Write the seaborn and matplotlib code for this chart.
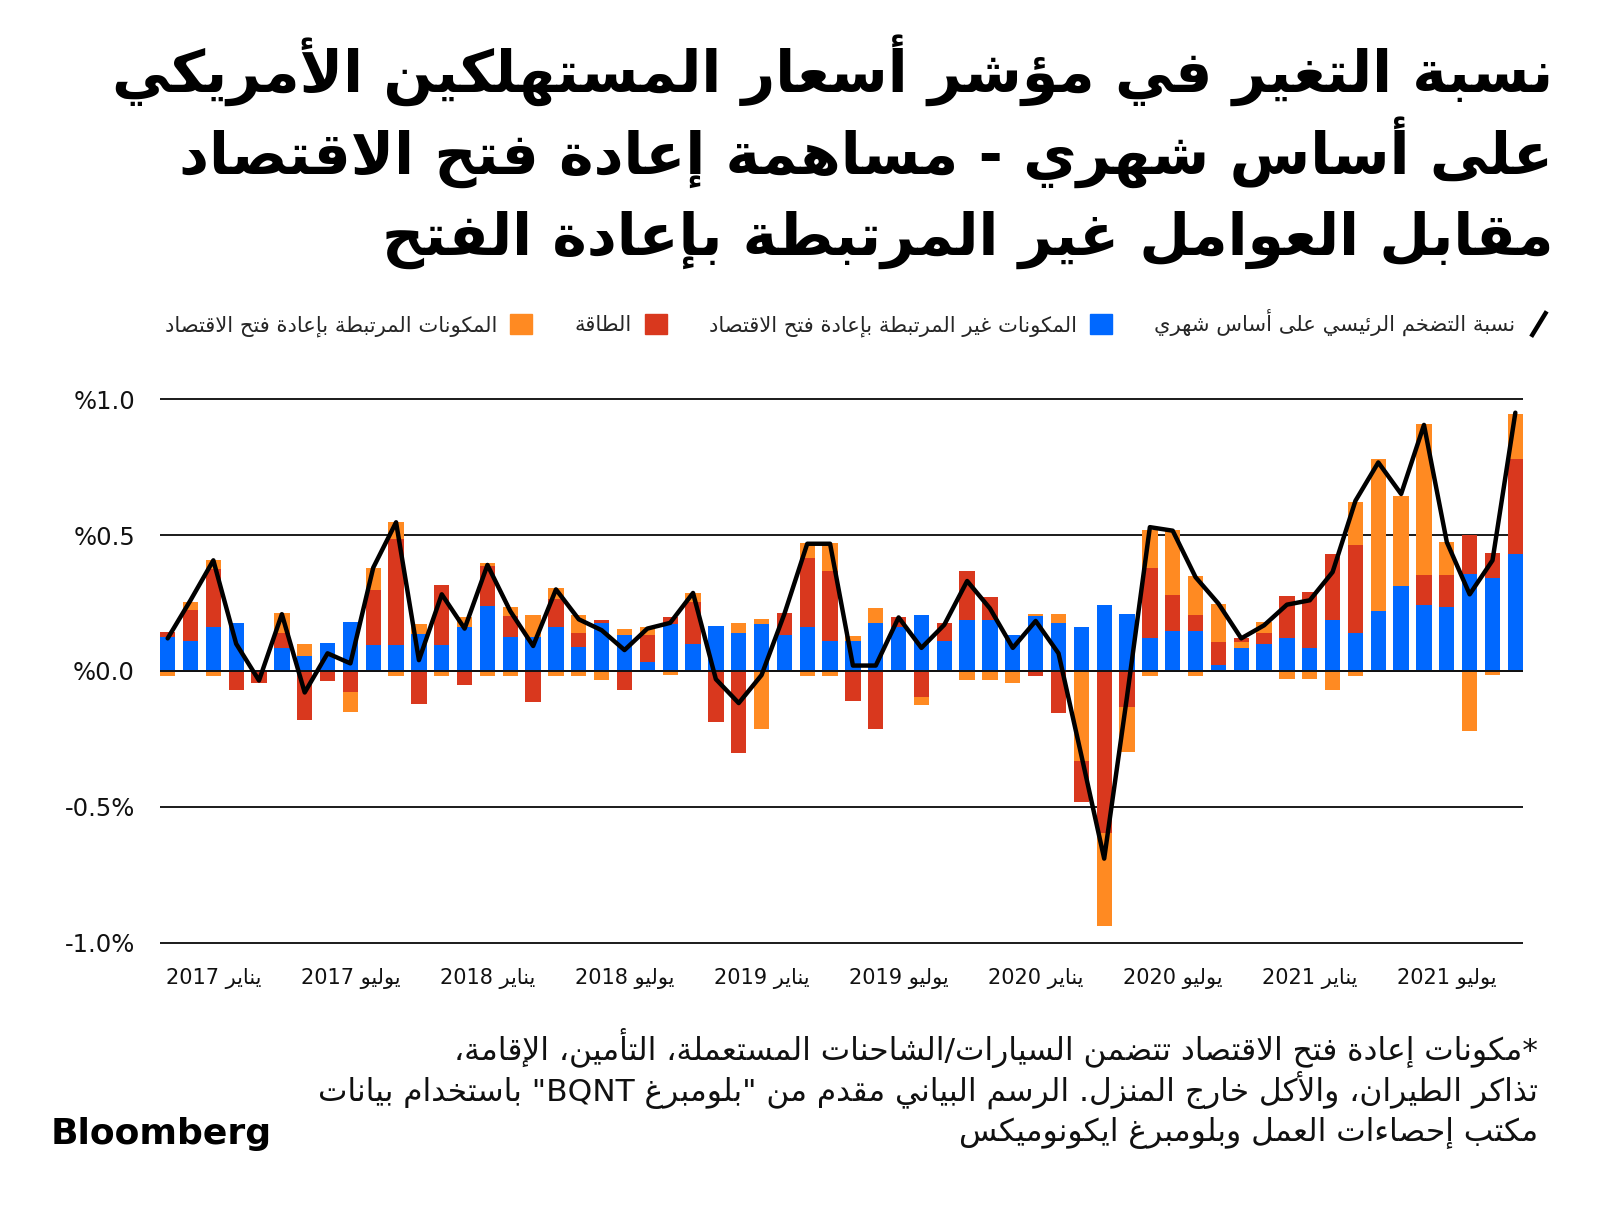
import re
import numpy as np
import pandas as pd
import matplotlib
matplotlib.use("Agg")
import matplotlib.pyplot as plt
import seaborn as sns
from matplotlib.lines import Line2D
from matplotlib.patches import Patch
from matplotlib.legend_handler import HandlerBase

# ---------------- data ----------------
months = pd.period_range("2016-11", "2021-10", freq="M")

# non-reopening core components (blue)
core = [0.126, 0.110, 0.160, 0.175, 0.000, 0.083, 0.056, 0.104, 0.182, 0.095,
        0.095, 0.136, 0.095, 0.162, 0.238, 0.126, 0.126, 0.162, 0.087, 0.175,
        0.134, 0.034, 0.172, 0.099, 0.165, 0.140, 0.172, 0.134, 0.162, 0.110,
        0.110, 0.175, 0.162, 0.205, 0.110, 0.187, 0.187, 0.134, 0.201, 0.175,
        0.162, 0.242, 0.208, 0.120, 0.147, 0.147, 0.022, 0.085, 0.099, 0.122,
        0.083, 0.187, 0.138, 0.221, 0.311, 0.242, 0.236, 0.355, 0.342, 0.429]

# reopening components, first block (orange)
reopen_a = [0.000, 0.000, -0.018, 0.000, 0.000, 0.000, 0.000, 0.000, 0.000, 0.000,
            -0.018, 0.000, 0.000, 0.000, -0.018, -0.018, 0.000, -0.018, -0.018, 0.000,
            0.000, 0.000, 0.000, 0.000, 0.000, 0.000, 0.021, 0.000, -0.018, -0.018,
            0.000, 0.000, 0.000, 0.000, 0.000, 0.000, 0.000, 0.000, 0.000, 0.000,
            -0.332, 0.000, 0.000, -0.018, 0.000, -0.018, 0.000, 0.022, 0.000, 0.000,
            0.000, 0.000, -0.018, 0.000, 0.000, 0.000, 0.000, 0.000, 0.000, 0.000]

# energy (red)
energy = [0.016, 0.116, 0.214, -0.070, -0.043, 0.055, -0.179, -0.035, -0.076, 0.202,
          0.391, -0.121, 0.220, -0.051, 0.147, 0.075, -0.115, 0.104, 0.051, 0.012,
          -0.070, 0.098, 0.027, 0.153, -0.186, -0.302, 0.000, 0.080, 0.254, 0.256,
          -0.109, -0.212, 0.037, -0.096, 0.065, 0.180, 0.085, 0.000, -0.018, -0.155,
          -0.149, -0.595, -0.131, 0.260, 0.131, 0.058, 0.083, 0.015, 0.041, 0.154,
          0.208, 0.245, 0.324, 0.000, 0.000, 0.110, 0.118, 0.146, 0.091, 0.352]

# reopening components, second block (orange)
reopen_b = [-0.018, 0.026, 0.034, 0.000, 0.000, 0.074, 0.042, 0.000, -0.076, 0.083,
            0.061, 0.036, -0.018, 0.037, 0.013, 0.035, 0.079, 0.040, 0.067, -0.033,
            0.019, 0.030, -0.015, 0.036, 0.000, 0.038, -0.212, 0.000, 0.054, 0.104,
            0.018, 0.056, 0.000, -0.028, 0.000, -0.033, -0.033, -0.045, 0.010, 0.036,
            0.000, -0.344, -0.168, 0.140, 0.242, 0.144, 0.140, 0.000, 0.041, -0.029,
            -0.029, -0.070, 0.161, 0.558, 0.331, 0.555, 0.122, -0.219, -0.013, 0.163]

# headline CPI, month over month (black line)
headline = [0.12, 0.26, 0.407, 0.10, -0.035, 0.209, -0.079, 0.065, 0.028, 0.38,
            0.547, 0.04, 0.282, 0.156, 0.39, 0.22, 0.092, 0.30, 0.19, 0.15,
            0.077, 0.156, 0.177, 0.287, -0.03, -0.118, -0.015, 0.21, 0.468, 0.468,
            0.02, 0.02, 0.197, 0.085, 0.17, 0.331, 0.23, 0.085, 0.184, 0.065,
            -0.31, -0.69, -0.094, 0.529, 0.516, 0.345, 0.248, 0.12, 0.168, 0.244,
            0.26, 0.364, 0.626, 0.767, 0.651, 0.905, 0.474, 0.282, 0.407, 0.95]

tick_labels = ["يناير 2017", "يوليو 2017", "يناير 2018", "يوليو 2018", "يناير 2019",
               "يوليو 2019", "يناير 2020", "يوليو 2020", "يناير 2021", "يوليو 2021"]
y_ticks = [-1.0, -0.5, 0.0, 0.5, 1.0]
y_tick_labels = ["-1.0%", "-0.5%", "%0.0", "%0.5", "%1.0"]

legend_labels = ["المكونات المرتبطة بإعادة فتح الاقتصاد", "الطاقة",
                 "المكونات غير المرتبطة بإعادة فتح الاقتصاد",
                 "نسبة التضخم الرئيسي على أساس شهري"]

title_lines = ["نسبة التغير في مؤشر أسعار المستهلكين الأمريكي",
               "على أساس شهري - مساهمة إعادة فتح الاقتصاد",
               "مقابل العوامل غير المرتبطة بإعادة الفتح"]

note_lines = ["*مكونات إعادة فتح الاقتصاد تتضمن السيارات/الشاحنات المستعملة، التأمين، الإقامة،",
              "تذاكر الطيران، والأكل خارج المنزل. الرسم البياني مقدم من \"بلومبرغ BQNT\" باستخدام بيانات",
              "مكتب إحصاءات العمل وبلومبرغ ايكونوميكس"]

BLUE = "#0068ff"
RED = "#d9381e"
ORANGE = "#ff8a22"

# ---------------- minimal Arabic shaping + RTL ordering ----------------
_seq = [("ء", 0xFE80, 1), ("آ", 0xFE81, 2), ("أ", 0xFE83, 2), ("ؤ", 0xFE85, 2),
        ("إ", 0xFE87, 2), ("ئ", 0xFE89, 4), ("ا", 0xFE8D, 2), ("ب", 0xFE8F, 4),
        ("ة", 0xFE93, 2), ("ت", 0xFE95, 4), ("ث", 0xFE99, 4), ("ج", 0xFE9D, 4),
        ("ح", 0xFEA1, 4), ("خ", 0xFEA5, 4), ("د", 0xFEA9, 2), ("ذ", 0xFEAB, 2),
        ("ر", 0xFEAD, 2), ("ز", 0xFEAF, 2), ("س", 0xFEB1, 4), ("ش", 0xFEB5, 4),
        ("ص", 0xFEB9, 4), ("ض", 0xFEBD, 4), ("ط", 0xFEC1, 4), ("ظ", 0xFEC5, 4),
        ("ع", 0xFEC9, 4), ("غ", 0xFECD, 4), ("ف", 0xFED1, 4), ("ق", 0xFED5, 4),
        ("ك", 0xFED9, 4), ("ل", 0xFEDD, 4), ("م", 0xFEE1, 4), ("ن", 0xFEE5, 4),
        ("ه", 0xFEE9, 4), ("و", 0xFEED, 2), ("ى", 0xFEEF, 2), ("ي", 0xFEF1, 4)]
FORMS = {}
for ch, base, k in _seq:
    f = [chr(base + j) for j in range(k)] + [None] * (4 - k)
    FORMS[ch] = tuple(f)
LAM_ALEF = {"آ": (0xFEF5, 0xFEF6), "أ": (0xFEF7, 0xFEF8),
            "إ": (0xFEF9, 0xFEFA), "ا": (0xFEFB, 0xFEFC)}


def _joining(c):
    return c in FORMS and FORMS[c][1] is not None


def shape(s):
    out = []
    i, n = 0, len(s)
    prev_dual = False
    while i < n:
        c = s[i]
        if c not in FORMS:
            out.append(c)
            prev_dual = False
            i += 1
            continue
        if c == "ل" and i + 1 < n and s[i + 1] in LAM_ALEF:
            iso, fin = LAM_ALEF[s[i + 1]]
            out.append(chr(fin if prev_dual else iso))
            prev_dual = False
            i += 2
            continue
        iso, fin, ini, med = FORMS[c]
        nxt = s[i + 1] if i + 1 < n else ""
        cp = prev_dual and fin is not None
        cn = med is not None and _joining(nxt)
        if cp and cn:
            out.append(med)
        elif cp:
            out.append(fin)
        elif cn:
            out.append(ini)
        else:
            out.append(iso)
        prev_dual = med is not None
        i += 1
    return "".join(out)


_MIRROR = {"(": ")", ")": "(", "[": "]", "]": "[", "<": ">", ">": "<"}


def ar(s):
    t = shape(s)
    parts = re.split(r"([A-Za-z0-9][A-Za-z0-9.,%]*)", t)
    res = []
    for k, p in enumerate(parts):
        if k % 2 == 1:
            res.append(p)
        else:
            res.append("".join(_MIRROR.get(c, c) for c in reversed(p)))
    return "".join(reversed(res))


# ---------------- figure ----------------
sns.set_theme(style="white")
plt.rcParams["font.family"] = ["DejaVu Sans"]

W, H = 1600, 1210
fig = plt.figure(figsize=(W / 100, H / 100), dpi=100)
fig.patch.set_facecolor("white")

ax_l, ax_r, ax_t, ax_b = 160, 1523, 398, 944
ax = fig.add_axes([ax_l / W, 1 - ax_b / H, (ax_r - ax_l) / W, (ax_b - ax_t) / H])

n = len(core)
x = np.arange(n)
bw = 0.67
pos_base = np.zeros(n)
neg_base = np.zeros(n)
for vals, col in [(core, BLUE), (reopen_a, ORANGE), (energy, RED), (reopen_b, ORANGE)]:
    v = np.asarray(vals, dtype=float)
    bottom = np.where(v >= 0, pos_base, neg_base)
    ax.bar(x, v, width=bw, bottom=bottom, color=col, linewidth=0, zorder=2)
    pos_base += np.clip(v, 0, None)
    neg_base += np.clip(v, None, 0)

sns.lineplot(x=x, y=headline, color="black", linewidth=3.2, ax=ax, zorder=5,
             legend=False)

ax.set_xlim(-bw / 2, n - 1 + bw / 2)
ax.set_ylim(-1.004, 1.004)
ax.set_yticks(y_ticks)
ax.set_yticklabels(y_tick_labels)
tick_pos = [i for i, m in enumerate(months) if m.month in (1, 7)]
ax.set_xticks(tick_pos)
ax.set_xticklabels([ar(t) for t in tick_labels])
ax.tick_params(axis="both", length=0, labelcolor="#111111")
ax.tick_params(axis="y", pad=18, labelsize=17.5)
ax.tick_params(axis="x", pad=17, labelsize=15)
ax.grid(axis="y", color="#1a1a1a", linewidth=1.4)
ax.grid(axis="x", visible=False)
ax.set_axisbelow(True)
ax.axhline(0, color="#111111", linewidth=1.4, zorder=3)
for sp in ax.spines.values():
    sp.set_visible(False)
ax.set_facecolor("white")


class DiagHandler(HandlerBase):
    def create_artists(self, legend, orig_handle, xdescent, ydescent, width,
                       height, fontsize, trans):
        ln = Line2D([-xdescent + 0.15 * width, -xdescent + 0.85 * width],
                    [-ydescent - 0.15 * height, -ydescent + 1.15 * height],
                    color="black", linewidth=3.2, transform=trans,
                    solid_capstyle="butt")
        return [ln]


handles = [Patch(color=ORANGE), Patch(color=RED), Patch(color=BLUE),
           Line2D([], [], color="black")]
fig.legend(handles=handles, labels=[ar(s) for s in legend_labels],
           handler_map={Line2D: DiagHandler()},
           loc="center right", bbox_to_anchor=(1550 / W, 1 - 323 / H),
           ncol=4, frameon=False, markerfirst=False, fontsize=15.2,
           handlelength=1.05, handleheight=1.05, handletextpad=0.6,
           columnspacing=2.0, borderpad=0, borderaxespad=0)

for k, (line, yb) in enumerate(zip(title_lines, [92, 174, 255])):
    fig.text(1553 / W, 1 - yb / H, ar(line), ha="right", va="baseline",
             fontsize=42, fontweight="bold", color="black")

for line, yb in zip(note_lines, [1060, 1101, 1141]):
    fig.text(1538 / W, 1 - yb / H, ar(line), ha="right", va="baseline",
             fontsize=22.5, color="#111111")

fig.text(51 / W, 1 - 1144 / H, "Bloomberg", ha="left", va="baseline",
         fontsize=26, fontweight="bold", color="black")

fig.savefig("out.png", dpi=100, facecolor="white")
